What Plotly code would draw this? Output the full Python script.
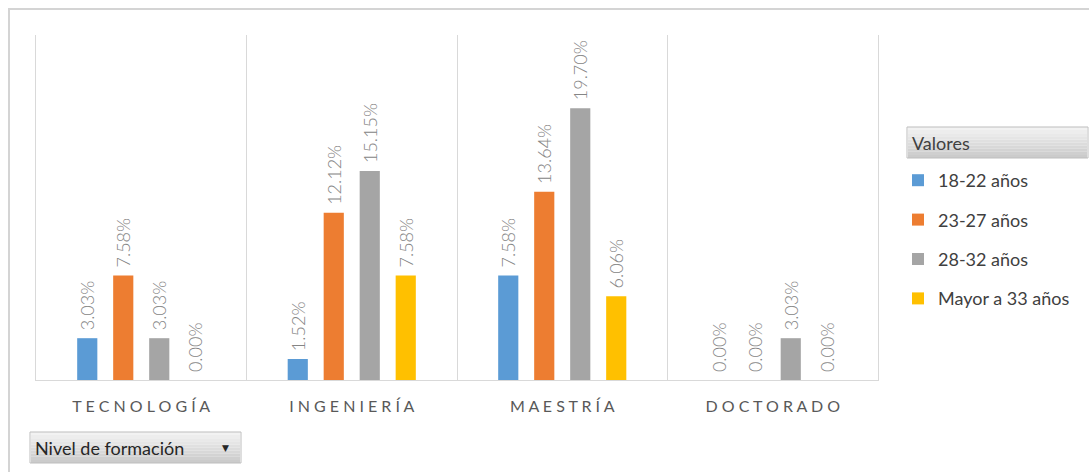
import plotly.graph_objects as go

categories = ["TECNOLOGÍA", "INGENIERÍA", "MAESTRÍA", "DOCTORADO"]
series_names = ["18-22 años", "23-27 años", "28-32 años", "Mayor a 33 años"]
values_18_22 = [3.03, 1.52, 7.58, 0.00]
values_23_27 = [7.58, 12.12, 13.64, 0.00]
values_28_32 = [3.03, 15.15, 19.70, 3.03]
values_33 = [0.00, 7.58, 6.06, 0.00]
series_values = [values_18_22, values_23_27, values_28_32, values_33]
colors = ["#5b9bd5", "#ed7d31", "#a5a5a5", "#ffc000"]

W, H = 1089, 472
L, R, T, B = 36, 211, 35, 92
PW, PH = W - L - R, H - T - B


def px_x(x):
    return (x - L) / PW


def px_y(y):
    return (H - B - y) / PH


FONT = "Lato, 'Open Sans', sans-serif"

fig = go.Figure()
for name, vals, col in zip(series_names, series_values, colors):
    fig.add_trace(go.Bar(
        x=categories, y=vals, name=name, marker_color=col,
        marker_line_width=0,
        text=["\u00a0" + f"{v:.2f}%" for v in vals],
        textposition="outside", textangle=-90,
        textfont=dict(family=FONT, size=18, color="#858585", weight=300),
        constraintext="none", cliponaxis=False,
        legendgroup=name,
    ))

ticktext = [" ".join(list(c)) for c in categories]

fig.update_layout(
    width=W, height=H,
    margin=dict(l=L, r=R, t=T, b=B, autoexpand=False),
    paper_bgcolor="white", plot_bgcolor="white",
    barmode="group", bargap=0.316, bargroupgap=0.44,
    font=dict(family=FONT, color="#404040"),
    xaxis=dict(
        tickmode="array", tickvals=categories, ticktext=ticktext,
        tickson="boundaries", showgrid=True, gridcolor="#d9d9d9", gridwidth=1,
        showline=True, linecolor="#d9d9d9", linewidth=1,
        ticks="", ticklabelstandoff=12,
        tickfont=dict(family=FONT, size=16, color="#595959"),
        fixedrange=True,
    ),
    yaxis=dict(
        range=[0, 25], showgrid=False, showticklabels=False, zeroline=False,
        showline=True, linecolor="#d9d9d9", linewidth=1, mirror=True,
        ticks="",
    ),
    legend=dict(
        x=px_x(898), xanchor="left", y=px_y(162), yanchor="top",
        font=dict(family=FONT, size=18, color="#404040"),
        tracegroupgap=13, bgcolor="rgba(0,0,0,0)",
        itemclick=False, itemdoubleclick=False,
    ),
    showlegend=True,
)

shapes = []
# outer frame
shapes.append(dict(type="rect", xref="paper", yref="paper",
                   x0=px_x(9), x1=px_x(W + 5), y0=px_y(H + 5), y1=px_y(9),
                   line=dict(color="#d4d4d4", width=2), fillcolor="rgba(0,0,0,0)", layer="below"))


def gradient_button(x0, y0, x1, y1):
    n = 10
    top = (242, 242, 242)
    bot = (203, 203, 203)
    h = (y1 - y0) / n
    for i in range(n):
        t = i / (n - 1)
        c = tuple(int(top[k] + (bot[k] - top[k]) * t) for k in range(3))
        shapes.append(dict(type="rect", xref="paper", yref="paper",
                           x0=px_x(x0 + 1), x1=px_x(x1 - 1),
                           y0=px_y(y0 + (i + 1) * h), y1=px_y(y0 + i * h),
                           line=dict(width=0), fillcolor="rgb(%d,%d,%d)" % c))
    shapes.append(dict(type="rect", xref="paper", yref="paper",
                       x0=px_x(x0), x1=px_x(x1), y0=px_y(y1), y1=px_y(y0),
                       line=dict(color="#bdbdbd", width=1), fillcolor="rgba(0,0,0,0)"))


gradient_button(907, 127, 1088, 158)
gradient_button(30, 432, 241, 463)

fig.update_layout(shapes=shapes)

fig.add_annotation(xref="paper", yref="paper", x=px_x(910), y=px_y(142.5),
                   xanchor="left", yanchor="middle", text="Valores", showarrow=False,
                   font=dict(family=FONT, size=18, color="#404040"))
fig.add_annotation(xref="paper", yref="paper", x=px_x(33), y=px_y(447.5),
                   xanchor="left", yanchor="middle", text="Nivel de formación", showarrow=False,
                   font=dict(family=FONT, size=18, color="#262626"))
fig.add_annotation(xref="paper", yref="paper", x=px_x(225), y=px_y(447.5),
                   xanchor="center", yanchor="middle", text="▼", showarrow=False,
                   font=dict(family="DejaVu Sans", size=9, color="#262626"))

fig.write_html("out.html", config={"displayModeBar": False})
